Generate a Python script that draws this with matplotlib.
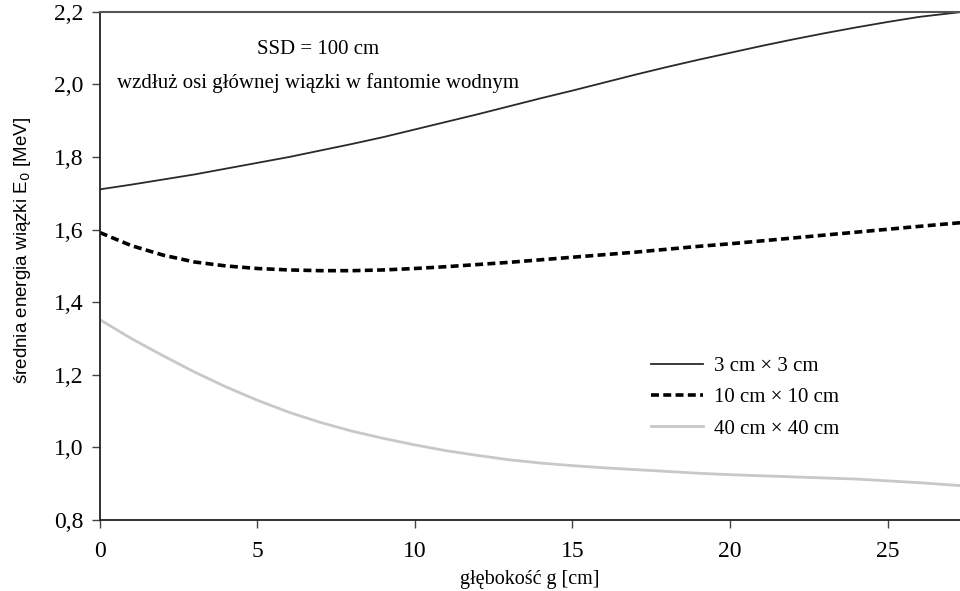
import numpy as np
import matplotlib.pyplot as plt
from matplotlib.ticker import FuncFormatter

# depth values [cm] and mean beam energy [MeV]
depth_3 = [0, 1, 2, 3, 4, 5, 6, 7, 8, 9, 10, 11, 12, 13, 14, 15, 16, 17, 18,
           19, 20, 21, 22, 23, 24, 25, 26, 27.3]
energy_3 = [1.711, 1.724, 1.738, 1.752, 1.768, 1.784, 1.800, 1.818, 1.836, 1.855,
            1.876, 1.897, 1.918, 1.940, 1.962, 1.983, 2.005, 2.027, 2.048, 2.068,
            2.087, 2.106, 2.124, 2.141, 2.157, 2.172, 2.186, 2.199]

depth_10 = [0, 1, 2, 3, 4, 5, 6, 7, 8, 9, 10, 11, 12, 13, 14, 15, 16, 17, 18,
            19, 20, 21, 22, 23, 24, 25, 26, 27.3]
energy_10 = [1.592, 1.556, 1.530, 1.511, 1.500, 1.493, 1.489, 1.487, 1.487, 1.489,
             1.493, 1.498, 1.504, 1.510, 1.517, 1.524, 1.531, 1.538, 1.546, 1.554,
             1.561, 1.569, 1.577, 1.585, 1.593, 1.601, 1.609, 1.619]

depth_40 = [0, 1, 2, 3, 4, 5, 6, 7, 8, 9, 10, 11, 12, 13, 14, 15, 16, 17, 18,
            19, 20, 21, 22, 23, 24, 25, 26, 27.3]
energy_40 = [1.352, 1.300, 1.253, 1.208, 1.167, 1.130, 1.097, 1.069, 1.045, 1.025,
             1.007, 0.991, 0.978, 0.966, 0.957, 0.950, 0.944, 0.939, 0.934, 0.929,
             0.925, 0.922, 0.919, 0.916, 0.913, 0.908, 0.903, 0.895]

labels = ['3 cm × 3 cm', '10 cm × 10 cm', '40 cm × 40 cm']

plt.rcParams['font.family'] = ['Liberation Serif', 'DejaVu Serif']

fig = plt.figure(figsize=(9.6, 5.91), dpi=100)
ax = fig.add_axes([0.104, 0.12, 0.896, 0.86])

ax.plot(depth_3, energy_3, color='#2a2a2a', lw=1.3, label=labels[0])
ax.plot(depth_10, energy_10, color='black', lw=2.6, ls=(0, (2.2, 1.2)), label=labels[1])
ax.plot(depth_40, energy_40, color='#c8c8c8', lw=2.0, label=labels[2])

ax.set_xlim(0, 27.3)
ax.set_ylim(0.8, 2.2)
ax.set_xticks([0, 5, 10, 15, 20, 25])
ax.set_yticks(np.arange(0.8, 2.21, 0.2))
ax.yaxis.set_major_formatter(FuncFormatter(lambda v, p: f'{v:.1f}'.replace('.', ',')))

ax.spines['right'].set_visible(False)
ax.spines['top'].set_color('#555555')
ax.spines['top'].set_linewidth(1.5)
for s in ['left', 'bottom']:
    ax.spines[s].set_linewidth(1.3)
    ax.spines[s].set_color('#222222')
ax.tick_params(direction='out', length=6, width=1.0, color='#444444', labelsize=17)
ax.tick_params(axis='y', pad=6)
ax.tick_params(axis='x', pad=9)

ax.set_xlabel('głębokość g [cm]', fontsize=14.5, labelpad=6)
ax.set_ylabel('średnia energia wiązki E$_0$ [MeV]', fontsize=13.5,
              family=['Liberation Sans', 'DejaVu Sans'])
ax.yaxis.set_label_coords(-0.078, 0.53)

ax.text(0.254, 0.925, 'SSD = 100 cm', transform=ax.transAxes, ha='center',
        va='center', fontsize=15)
ax.text(0.254, 0.86, 'wzdłuż osi głównej wiązki w fantomie wodnym',
        transform=ax.transAxes, ha='center', va='center', fontsize=15)

ax.legend(loc='upper left', bbox_to_anchor=(0.619, 0.358), frameon=False,
          fontsize=15, handlelength=2.5, handletextpad=0.5, labelspacing=0.55)

fig.savefig('out.png', dpi=100)
